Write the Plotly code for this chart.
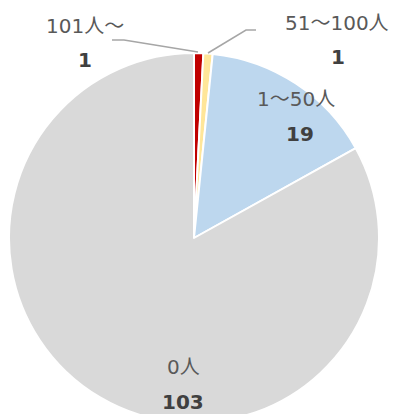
import plotly.graph_objects as go

categories = ["101人～", "51～100人", "1～50人", "0人"]
values = [1, 1, 19, 103]
colors = ["#C00000", "#FFE699", "#BDD7EE", "#D9D9D9"]

W, H = 397, 424

def px(x, y):
    return x / W, (H - y) / H

fig = go.Figure(go.Pie(
    labels=categories, values=values, sort=False, direction="clockwise",
    rotation=0, marker=dict(colors=colors, line=dict(color="white", width=2)),
    textinfo="none", hoverinfo="label+value", showlegend=False,
    domain=dict(x=[9 / W, 379 / W], y=[(H - 423) / H, (H - 53) / H]),
))

label_pos = [(85, 26, 85, 60), (337, 23, 338, 57), (296, 99, 300, 134), (183, 367, 183, 402)]
annotations = []
for cat, val, (lx, ly, vx, vy) in zip(categories, values, label_pos):
    x, y = px(lx, ly)
    annotations.append(dict(x=x, y=y, xref="paper", yref="paper", text=cat, showarrow=False,
                            font=dict(size=20, color="#595959", family="DejaVu Sans, Noto Sans CJK JP"),
                            xanchor="center", yanchor="middle"))
    x, y = px(vx, vy)
    annotations.append(dict(x=x, y=y, xref="paper", yref="paper", text=f"<b>{val}</b>", showarrow=False,
                            font=dict(size=20, color="#404040", family="DejaVu Sans, Noto Sans CJK JP"),
                            xanchor="center", yanchor="middle"))

leaders = [[(112, 40), (124, 40), (198, 52)], [(256, 30), (246, 30), (208, 53)]]
shapes = []
for pts in leaders:
    path = "M " + " L ".join(f"{px(a, b)[0]},{px(a, b)[1]}" for a, b in pts)
    shapes.append(dict(type="path", path=path, xref="paper", yref="paper",
                       line=dict(color="#A6A6A6", width=1.5)))

fig.update_layout(width=W, height=H, margin=dict(l=0, r=0, t=0, b=0),
                  paper_bgcolor="white", plot_bgcolor="white",
                  annotations=annotations, shapes=shapes)

fig.write_html("out.html", post_script="document.body.style.margin='0';document.body.style.overflow='hidden';document.documentElement.style.overflow='hidden';")
